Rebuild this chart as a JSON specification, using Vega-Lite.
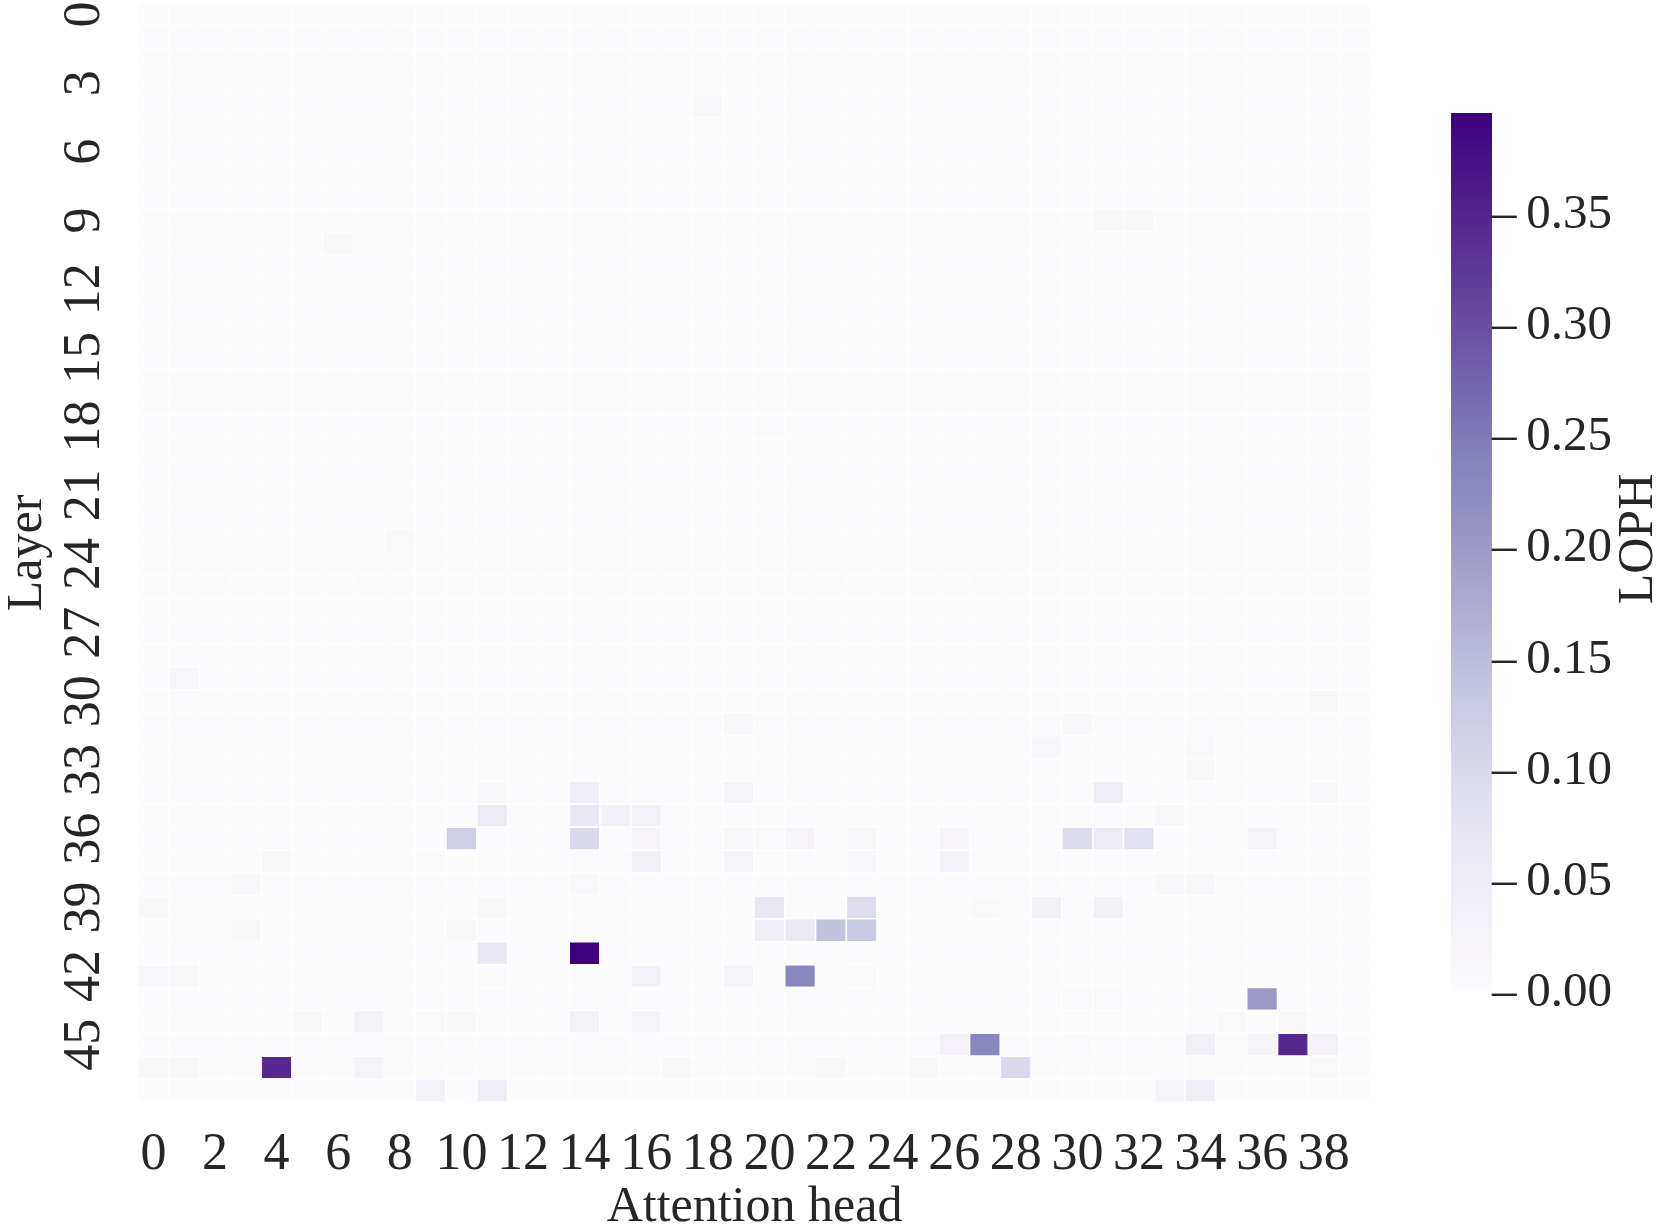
{"$schema":"https://vega.github.io/schema/vega-lite/v6.json","autosize":{"type":"none"},"padding":{"left":138,"top":3,"right":291,"bottom":126},"width":1232,"height":1099,"background":"white","config":{"font":"Liberation Serif","view":{"stroke":null}},
"data":{"values":[
{"l":0,"h":0,"v":0},{"l":0,"h":1,"v":0},{"l":0,"h":2,"v":0},{"l":0,"h":3,"v":0},{"l":0,"h":4,"v":0},{"l":0,"h":5,"v":0},{"l":0,"h":6,"v":0},{"l":0,"h":7,"v":0},{"l":0,"h":8,"v":0},{"l":0,"h":9,"v":0},{"l":0,"h":10,"v":0},{"l":0,"h":11,"v":0},{"l":0,"h":12,"v":0},{"l":0,"h":13,"v":0},{"l":0,"h":14,"v":0},{"l":0,"h":15,"v":0},{"l":0,"h":16,"v":0},{"l":0,"h":17,"v":0},{"l":0,"h":18,"v":0},{"l":0,"h":19,"v":0},{"l":0,"h":20,"v":0},{"l":0,"h":21,"v":0},{"l":0,"h":22,"v":0},{"l":0,"h":23,"v":0},{"l":0,"h":24,"v":0},{"l":0,"h":25,"v":0},{"l":0,"h":26,"v":0},{"l":0,"h":27,"v":0},{"l":0,"h":28,"v":0},{"l":0,"h":29,"v":0},{"l":0,"h":30,"v":0},{"l":0,"h":31,"v":0},{"l":0,"h":32,"v":0},{"l":0,"h":33,"v":0},{"l":0,"h":34,"v":0},{"l":0,"h":35,"v":0},{"l":0,"h":36,"v":0},{"l":0,"h":37,"v":0},{"l":0,"h":38,"v":0},{"l":0,"h":39,"v":0},
{"l":1,"h":0,"v":0},{"l":1,"h":1,"v":0},{"l":1,"h":2,"v":0},{"l":1,"h":3,"v":0},{"l":1,"h":4,"v":0},{"l":1,"h":5,"v":0},{"l":1,"h":6,"v":0},{"l":1,"h":7,"v":0},{"l":1,"h":8,"v":0},{"l":1,"h":9,"v":0},{"l":1,"h":10,"v":0},{"l":1,"h":11,"v":0},{"l":1,"h":12,"v":0},{"l":1,"h":13,"v":0},{"l":1,"h":14,"v":0},{"l":1,"h":15,"v":0},{"l":1,"h":16,"v":0},{"l":1,"h":17,"v":0},{"l":1,"h":18,"v":0},{"l":1,"h":19,"v":0},{"l":1,"h":20,"v":0},{"l":1,"h":21,"v":0},{"l":1,"h":22,"v":0},{"l":1,"h":23,"v":0},{"l":1,"h":24,"v":0},{"l":1,"h":25,"v":0},{"l":1,"h":26,"v":0},{"l":1,"h":27,"v":0},{"l":1,"h":28,"v":0},{"l":1,"h":29,"v":0},{"l":1,"h":30,"v":0},{"l":1,"h":31,"v":0},{"l":1,"h":32,"v":0},{"l":1,"h":33,"v":0},{"l":1,"h":34,"v":0},{"l":1,"h":35,"v":0},{"l":1,"h":36,"v":0},{"l":1,"h":37,"v":0},{"l":1,"h":38,"v":0},{"l":1,"h":39,"v":0},
{"l":2,"h":0,"v":0},{"l":2,"h":1,"v":0},{"l":2,"h":2,"v":0},{"l":2,"h":3,"v":0},{"l":2,"h":4,"v":0},{"l":2,"h":5,"v":0},{"l":2,"h":6,"v":0},{"l":2,"h":7,"v":0},{"l":2,"h":8,"v":0},{"l":2,"h":9,"v":0},{"l":2,"h":10,"v":0},{"l":2,"h":11,"v":0},{"l":2,"h":12,"v":0},{"l":2,"h":13,"v":0},{"l":2,"h":14,"v":0},{"l":2,"h":15,"v":0},{"l":2,"h":16,"v":0},{"l":2,"h":17,"v":0},{"l":2,"h":18,"v":0},{"l":2,"h":19,"v":0},{"l":2,"h":20,"v":0},{"l":2,"h":21,"v":0},{"l":2,"h":22,"v":0},{"l":2,"h":23,"v":0},{"l":2,"h":24,"v":0},{"l":2,"h":25,"v":0},{"l":2,"h":26,"v":0},{"l":2,"h":27,"v":0},{"l":2,"h":28,"v":0},{"l":2,"h":29,"v":0},{"l":2,"h":30,"v":0},{"l":2,"h":31,"v":0},{"l":2,"h":32,"v":0},{"l":2,"h":33,"v":0},{"l":2,"h":34,"v":0},{"l":2,"h":35,"v":0},{"l":2,"h":36,"v":0},{"l":2,"h":37,"v":0},{"l":2,"h":38,"v":0},{"l":2,"h":39,"v":0},
{"l":3,"h":0,"v":0},{"l":3,"h":1,"v":0},{"l":3,"h":2,"v":0},{"l":3,"h":3,"v":0},{"l":3,"h":4,"v":0},{"l":3,"h":5,"v":0},{"l":3,"h":6,"v":0},{"l":3,"h":7,"v":0},{"l":3,"h":8,"v":0},{"l":3,"h":9,"v":0},{"l":3,"h":10,"v":0},{"l":3,"h":11,"v":0},{"l":3,"h":12,"v":0},{"l":3,"h":13,"v":0},{"l":3,"h":14,"v":0},{"l":3,"h":15,"v":0},{"l":3,"h":16,"v":0},{"l":3,"h":17,"v":0},{"l":3,"h":18,"v":0},{"l":3,"h":19,"v":0},{"l":3,"h":20,"v":0},{"l":3,"h":21,"v":0},{"l":3,"h":22,"v":0},{"l":3,"h":23,"v":0},{"l":3,"h":24,"v":0},{"l":3,"h":25,"v":0},{"l":3,"h":26,"v":0},{"l":3,"h":27,"v":0},{"l":3,"h":28,"v":0},{"l":3,"h":29,"v":0},{"l":3,"h":30,"v":0},{"l":3,"h":31,"v":0},{"l":3,"h":32,"v":0},{"l":3,"h":33,"v":0},{"l":3,"h":34,"v":0},{"l":3,"h":35,"v":0},{"l":3,"h":36,"v":0},{"l":3,"h":37,"v":0},{"l":3,"h":38,"v":0},{"l":3,"h":39,"v":0},
{"l":4,"h":0,"v":0},{"l":4,"h":1,"v":0},{"l":4,"h":2,"v":0},{"l":4,"h":3,"v":0},{"l":4,"h":4,"v":0},{"l":4,"h":5,"v":0},{"l":4,"h":6,"v":0},{"l":4,"h":7,"v":0},{"l":4,"h":8,"v":0},{"l":4,"h":9,"v":0},{"l":4,"h":10,"v":0},{"l":4,"h":11,"v":0},{"l":4,"h":12,"v":0},{"l":4,"h":13,"v":0},{"l":4,"h":14,"v":0},{"l":4,"h":15,"v":0},{"l":4,"h":16,"v":0},{"l":4,"h":17,"v":0},{"l":4,"h":18,"v":0.012},{"l":4,"h":19,"v":0},{"l":4,"h":20,"v":0},{"l":4,"h":21,"v":0},{"l":4,"h":22,"v":0},{"l":4,"h":23,"v":0},{"l":4,"h":24,"v":0},{"l":4,"h":25,"v":0},{"l":4,"h":26,"v":0},{"l":4,"h":27,"v":0},{"l":4,"h":28,"v":0},{"l":4,"h":29,"v":0},{"l":4,"h":30,"v":0},{"l":4,"h":31,"v":0},{"l":4,"h":32,"v":0},{"l":4,"h":33,"v":0},{"l":4,"h":34,"v":0},{"l":4,"h":35,"v":0},{"l":4,"h":36,"v":0},{"l":4,"h":37,"v":0},{"l":4,"h":38,"v":0},{"l":4,"h":39,"v":0},
{"l":5,"h":0,"v":0},{"l":5,"h":1,"v":0},{"l":5,"h":2,"v":0},{"l":5,"h":3,"v":0},{"l":5,"h":4,"v":0},{"l":5,"h":5,"v":0},{"l":5,"h":6,"v":0},{"l":5,"h":7,"v":0},{"l":5,"h":8,"v":0},{"l":5,"h":9,"v":0},{"l":5,"h":10,"v":0},{"l":5,"h":11,"v":0},{"l":5,"h":12,"v":0},{"l":5,"h":13,"v":0},{"l":5,"h":14,"v":0},{"l":5,"h":15,"v":0},{"l":5,"h":16,"v":0},{"l":5,"h":17,"v":0},{"l":5,"h":18,"v":0},{"l":5,"h":19,"v":0},{"l":5,"h":20,"v":0},{"l":5,"h":21,"v":0},{"l":5,"h":22,"v":0},{"l":5,"h":23,"v":0},{"l":5,"h":24,"v":0},{"l":5,"h":25,"v":0},{"l":5,"h":26,"v":0},{"l":5,"h":27,"v":0},{"l":5,"h":28,"v":0},{"l":5,"h":29,"v":0},{"l":5,"h":30,"v":0},{"l":5,"h":31,"v":0},{"l":5,"h":32,"v":0},{"l":5,"h":33,"v":0},{"l":5,"h":34,"v":0},{"l":5,"h":35,"v":0},{"l":5,"h":36,"v":0},{"l":5,"h":37,"v":0},{"l":5,"h":38,"v":0},{"l":5,"h":39,"v":0},
{"l":6,"h":0,"v":0},{"l":6,"h":1,"v":0},{"l":6,"h":2,"v":0},{"l":6,"h":3,"v":0},{"l":6,"h":4,"v":0},{"l":6,"h":5,"v":0},{"l":6,"h":6,"v":0},{"l":6,"h":7,"v":0},{"l":6,"h":8,"v":0},{"l":6,"h":9,"v":0},{"l":6,"h":10,"v":0},{"l":6,"h":11,"v":0},{"l":6,"h":12,"v":0},{"l":6,"h":13,"v":0},{"l":6,"h":14,"v":0},{"l":6,"h":15,"v":0},{"l":6,"h":16,"v":0},{"l":6,"h":17,"v":0},{"l":6,"h":18,"v":0},{"l":6,"h":19,"v":0},{"l":6,"h":20,"v":0},{"l":6,"h":21,"v":0},{"l":6,"h":22,"v":0},{"l":6,"h":23,"v":0},{"l":6,"h":24,"v":0},{"l":6,"h":25,"v":0},{"l":6,"h":26,"v":0},{"l":6,"h":27,"v":0},{"l":6,"h":28,"v":0},{"l":6,"h":29,"v":0},{"l":6,"h":30,"v":0},{"l":6,"h":31,"v":0},{"l":6,"h":32,"v":0},{"l":6,"h":33,"v":0},{"l":6,"h":34,"v":0},{"l":6,"h":35,"v":0},{"l":6,"h":36,"v":0},{"l":6,"h":37,"v":0},{"l":6,"h":38,"v":0},{"l":6,"h":39,"v":0},
{"l":7,"h":0,"v":0},{"l":7,"h":1,"v":0},{"l":7,"h":2,"v":0},{"l":7,"h":3,"v":0},{"l":7,"h":4,"v":0},{"l":7,"h":5,"v":0},{"l":7,"h":6,"v":0},{"l":7,"h":7,"v":0},{"l":7,"h":8,"v":0},{"l":7,"h":9,"v":0},{"l":7,"h":10,"v":0},{"l":7,"h":11,"v":0},{"l":7,"h":12,"v":0},{"l":7,"h":13,"v":0},{"l":7,"h":14,"v":0},{"l":7,"h":15,"v":0},{"l":7,"h":16,"v":0},{"l":7,"h":17,"v":0},{"l":7,"h":18,"v":0},{"l":7,"h":19,"v":0},{"l":7,"h":20,"v":0},{"l":7,"h":21,"v":0},{"l":7,"h":22,"v":0},{"l":7,"h":23,"v":0},{"l":7,"h":24,"v":0},{"l":7,"h":25,"v":0},{"l":7,"h":26,"v":0},{"l":7,"h":27,"v":0},{"l":7,"h":28,"v":0},{"l":7,"h":29,"v":0},{"l":7,"h":30,"v":0},{"l":7,"h":31,"v":0},{"l":7,"h":32,"v":0},{"l":7,"h":33,"v":0},{"l":7,"h":34,"v":0},{"l":7,"h":35,"v":0},{"l":7,"h":36,"v":0},{"l":7,"h":37,"v":0},{"l":7,"h":38,"v":0},{"l":7,"h":39,"v":0},
{"l":8,"h":0,"v":0},{"l":8,"h":1,"v":0},{"l":8,"h":2,"v":0},{"l":8,"h":3,"v":0},{"l":8,"h":4,"v":0},{"l":8,"h":5,"v":0},{"l":8,"h":6,"v":0},{"l":8,"h":7,"v":0},{"l":8,"h":8,"v":0},{"l":8,"h":9,"v":0},{"l":8,"h":10,"v":0},{"l":8,"h":11,"v":0},{"l":8,"h":12,"v":0},{"l":8,"h":13,"v":0},{"l":8,"h":14,"v":0},{"l":8,"h":15,"v":0},{"l":8,"h":16,"v":0},{"l":8,"h":17,"v":0},{"l":8,"h":18,"v":0},{"l":8,"h":19,"v":0},{"l":8,"h":20,"v":0},{"l":8,"h":21,"v":0},{"l":8,"h":22,"v":0},{"l":8,"h":23,"v":0},{"l":8,"h":24,"v":0},{"l":8,"h":25,"v":0},{"l":8,"h":26,"v":0},{"l":8,"h":27,"v":0},{"l":8,"h":28,"v":0},{"l":8,"h":29,"v":0},{"l":8,"h":30,"v":0},{"l":8,"h":31,"v":0},{"l":8,"h":32,"v":0},{"l":8,"h":33,"v":0},{"l":8,"h":34,"v":0},{"l":8,"h":35,"v":0},{"l":8,"h":36,"v":0},{"l":8,"h":37,"v":0},{"l":8,"h":38,"v":0},{"l":8,"h":39,"v":0},
{"l":9,"h":0,"v":0},{"l":9,"h":1,"v":0},{"l":9,"h":2,"v":0},{"l":9,"h":3,"v":0},{"l":9,"h":4,"v":0},{"l":9,"h":5,"v":0},{"l":9,"h":6,"v":0},{"l":9,"h":7,"v":0},{"l":9,"h":8,"v":0},{"l":9,"h":9,"v":0},{"l":9,"h":10,"v":0},{"l":9,"h":11,"v":0},{"l":9,"h":12,"v":0},{"l":9,"h":13,"v":0},{"l":9,"h":14,"v":0},{"l":9,"h":15,"v":0},{"l":9,"h":16,"v":0},{"l":9,"h":17,"v":0},{"l":9,"h":18,"v":0},{"l":9,"h":19,"v":0},{"l":9,"h":20,"v":0},{"l":9,"h":21,"v":0},{"l":9,"h":22,"v":0},{"l":9,"h":23,"v":0},{"l":9,"h":24,"v":0},{"l":9,"h":25,"v":0},{"l":9,"h":26,"v":0},{"l":9,"h":27,"v":0},{"l":9,"h":28,"v":0},{"l":9,"h":29,"v":0},{"l":9,"h":30,"v":0},{"l":9,"h":31,"v":0.012},{"l":9,"h":32,"v":0.01},{"l":9,"h":33,"v":0},{"l":9,"h":34,"v":0},{"l":9,"h":35,"v":0},{"l":9,"h":36,"v":0},{"l":9,"h":37,"v":0},{"l":9,"h":38,"v":0},{"l":9,"h":39,"v":0},
{"l":10,"h":0,"v":0},{"l":10,"h":1,"v":0},{"l":10,"h":2,"v":0},{"l":10,"h":3,"v":0},{"l":10,"h":4,"v":0},{"l":10,"h":5,"v":0},{"l":10,"h":6,"v":0.01},{"l":10,"h":7,"v":0},{"l":10,"h":8,"v":0},{"l":10,"h":9,"v":0},{"l":10,"h":10,"v":0},{"l":10,"h":11,"v":0},{"l":10,"h":12,"v":0},{"l":10,"h":13,"v":0},{"l":10,"h":14,"v":0},{"l":10,"h":15,"v":0},{"l":10,"h":16,"v":0},{"l":10,"h":17,"v":0},{"l":10,"h":18,"v":0},{"l":10,"h":19,"v":0},{"l":10,"h":20,"v":0},{"l":10,"h":21,"v":0},{"l":10,"h":22,"v":0},{"l":10,"h":23,"v":0},{"l":10,"h":24,"v":0},{"l":10,"h":25,"v":0},{"l":10,"h":26,"v":0},{"l":10,"h":27,"v":0},{"l":10,"h":28,"v":0},{"l":10,"h":29,"v":0},{"l":10,"h":30,"v":0},{"l":10,"h":31,"v":0},{"l":10,"h":32,"v":0},{"l":10,"h":33,"v":0},{"l":10,"h":34,"v":0},{"l":10,"h":35,"v":0},{"l":10,"h":36,"v":0},{"l":10,"h":37,"v":0},{"l":10,"h":38,"v":0},{"l":10,"h":39,"v":0},
{"l":11,"h":0,"v":0},{"l":11,"h":1,"v":0},{"l":11,"h":2,"v":0},{"l":11,"h":3,"v":0},{"l":11,"h":4,"v":0},{"l":11,"h":5,"v":0},{"l":11,"h":6,"v":0},{"l":11,"h":7,"v":0},{"l":11,"h":8,"v":0},{"l":11,"h":9,"v":0},{"l":11,"h":10,"v":0},{"l":11,"h":11,"v":0},{"l":11,"h":12,"v":0},{"l":11,"h":13,"v":0},{"l":11,"h":14,"v":0},{"l":11,"h":15,"v":0},{"l":11,"h":16,"v":0},{"l":11,"h":17,"v":0},{"l":11,"h":18,"v":0},{"l":11,"h":19,"v":0},{"l":11,"h":20,"v":0},{"l":11,"h":21,"v":0},{"l":11,"h":22,"v":0},{"l":11,"h":23,"v":0},{"l":11,"h":24,"v":0},{"l":11,"h":25,"v":0},{"l":11,"h":26,"v":0},{"l":11,"h":27,"v":0},{"l":11,"h":28,"v":0},{"l":11,"h":29,"v":0},{"l":11,"h":30,"v":0},{"l":11,"h":31,"v":0},{"l":11,"h":32,"v":0},{"l":11,"h":33,"v":0},{"l":11,"h":34,"v":0},{"l":11,"h":35,"v":0},{"l":11,"h":36,"v":0},{"l":11,"h":37,"v":0},{"l":11,"h":38,"v":0},{"l":11,"h":39,"v":0},
{"l":12,"h":0,"v":0},{"l":12,"h":1,"v":0},{"l":12,"h":2,"v":0},{"l":12,"h":3,"v":0},{"l":12,"h":4,"v":0},{"l":12,"h":5,"v":0},{"l":12,"h":6,"v":0},{"l":12,"h":7,"v":0},{"l":12,"h":8,"v":0},{"l":12,"h":9,"v":0},{"l":12,"h":10,"v":0},{"l":12,"h":11,"v":0},{"l":12,"h":12,"v":0},{"l":12,"h":13,"v":0},{"l":12,"h":14,"v":0},{"l":12,"h":15,"v":0},{"l":12,"h":16,"v":0},{"l":12,"h":17,"v":0},{"l":12,"h":18,"v":0},{"l":12,"h":19,"v":0},{"l":12,"h":20,"v":0},{"l":12,"h":21,"v":0},{"l":12,"h":22,"v":0},{"l":12,"h":23,"v":0},{"l":12,"h":24,"v":0},{"l":12,"h":25,"v":0},{"l":12,"h":26,"v":0},{"l":12,"h":27,"v":0},{"l":12,"h":28,"v":0},{"l":12,"h":29,"v":0},{"l":12,"h":30,"v":0},{"l":12,"h":31,"v":0},{"l":12,"h":32,"v":0},{"l":12,"h":33,"v":0},{"l":12,"h":34,"v":0},{"l":12,"h":35,"v":0},{"l":12,"h":36,"v":0},{"l":12,"h":37,"v":0},{"l":12,"h":38,"v":0},{"l":12,"h":39,"v":0},
{"l":13,"h":0,"v":0},{"l":13,"h":1,"v":0},{"l":13,"h":2,"v":0},{"l":13,"h":3,"v":0},{"l":13,"h":4,"v":0},{"l":13,"h":5,"v":0},{"l":13,"h":6,"v":0},{"l":13,"h":7,"v":0},{"l":13,"h":8,"v":0},{"l":13,"h":9,"v":0},{"l":13,"h":10,"v":0},{"l":13,"h":11,"v":0},{"l":13,"h":12,"v":0},{"l":13,"h":13,"v":0},{"l":13,"h":14,"v":0},{"l":13,"h":15,"v":0},{"l":13,"h":16,"v":0},{"l":13,"h":17,"v":0},{"l":13,"h":18,"v":0},{"l":13,"h":19,"v":0},{"l":13,"h":20,"v":0},{"l":13,"h":21,"v":0},{"l":13,"h":22,"v":0},{"l":13,"h":23,"v":0},{"l":13,"h":24,"v":0},{"l":13,"h":25,"v":0},{"l":13,"h":26,"v":0},{"l":13,"h":27,"v":0},{"l":13,"h":28,"v":0},{"l":13,"h":29,"v":0},{"l":13,"h":30,"v":0},{"l":13,"h":31,"v":0},{"l":13,"h":32,"v":0},{"l":13,"h":33,"v":0},{"l":13,"h":34,"v":0},{"l":13,"h":35,"v":0},{"l":13,"h":36,"v":0},{"l":13,"h":37,"v":0},{"l":13,"h":38,"v":0},{"l":13,"h":39,"v":0},
{"l":14,"h":0,"v":0},{"l":14,"h":1,"v":0},{"l":14,"h":2,"v":0},{"l":14,"h":3,"v":0},{"l":14,"h":4,"v":0},{"l":14,"h":5,"v":0},{"l":14,"h":6,"v":0},{"l":14,"h":7,"v":0},{"l":14,"h":8,"v":0},{"l":14,"h":9,"v":0},{"l":14,"h":10,"v":0},{"l":14,"h":11,"v":0},{"l":14,"h":12,"v":0},{"l":14,"h":13,"v":0},{"l":14,"h":14,"v":0},{"l":14,"h":15,"v":0},{"l":14,"h":16,"v":0},{"l":14,"h":17,"v":0},{"l":14,"h":18,"v":0},{"l":14,"h":19,"v":0},{"l":14,"h":20,"v":0},{"l":14,"h":21,"v":0},{"l":14,"h":22,"v":0},{"l":14,"h":23,"v":0},{"l":14,"h":24,"v":0},{"l":14,"h":25,"v":0},{"l":14,"h":26,"v":0},{"l":14,"h":27,"v":0},{"l":14,"h":28,"v":0},{"l":14,"h":29,"v":0},{"l":14,"h":30,"v":0},{"l":14,"h":31,"v":0},{"l":14,"h":32,"v":0},{"l":14,"h":33,"v":0},{"l":14,"h":34,"v":0},{"l":14,"h":35,"v":0},{"l":14,"h":36,"v":0},{"l":14,"h":37,"v":0},{"l":14,"h":38,"v":0},{"l":14,"h":39,"v":0},
{"l":15,"h":0,"v":0},{"l":15,"h":1,"v":0},{"l":15,"h":2,"v":0},{"l":15,"h":3,"v":0},{"l":15,"h":4,"v":0},{"l":15,"h":5,"v":0},{"l":15,"h":6,"v":0},{"l":15,"h":7,"v":0},{"l":15,"h":8,"v":0},{"l":15,"h":9,"v":0},{"l":15,"h":10,"v":0},{"l":15,"h":11,"v":0},{"l":15,"h":12,"v":0},{"l":15,"h":13,"v":0},{"l":15,"h":14,"v":0},{"l":15,"h":15,"v":0},{"l":15,"h":16,"v":0},{"l":15,"h":17,"v":0},{"l":15,"h":18,"v":0},{"l":15,"h":19,"v":0},{"l":15,"h":20,"v":0},{"l":15,"h":21,"v":0},{"l":15,"h":22,"v":0},{"l":15,"h":23,"v":0},{"l":15,"h":24,"v":0},{"l":15,"h":25,"v":0},{"l":15,"h":26,"v":0},{"l":15,"h":27,"v":0},{"l":15,"h":28,"v":0},{"l":15,"h":29,"v":0},{"l":15,"h":30,"v":0},{"l":15,"h":31,"v":0},{"l":15,"h":32,"v":0},{"l":15,"h":33,"v":0},{"l":15,"h":34,"v":0},{"l":15,"h":35,"v":0},{"l":15,"h":36,"v":0},{"l":15,"h":37,"v":0},{"l":15,"h":38,"v":0},{"l":15,"h":39,"v":0},
{"l":16,"h":0,"v":0},{"l":16,"h":1,"v":0},{"l":16,"h":2,"v":0},{"l":16,"h":3,"v":0},{"l":16,"h":4,"v":0},{"l":16,"h":5,"v":0},{"l":16,"h":6,"v":0},{"l":16,"h":7,"v":0},{"l":16,"h":8,"v":0},{"l":16,"h":9,"v":0},{"l":16,"h":10,"v":0},{"l":16,"h":11,"v":0},{"l":16,"h":12,"v":0},{"l":16,"h":13,"v":0},{"l":16,"h":14,"v":0},{"l":16,"h":15,"v":0},{"l":16,"h":16,"v":0},{"l":16,"h":17,"v":0},{"l":16,"h":18,"v":0},{"l":16,"h":19,"v":0},{"l":16,"h":20,"v":0},{"l":16,"h":21,"v":0},{"l":16,"h":22,"v":0},{"l":16,"h":23,"v":0},{"l":16,"h":24,"v":0},{"l":16,"h":25,"v":0},{"l":16,"h":26,"v":0},{"l":16,"h":27,"v":0},{"l":16,"h":28,"v":0},{"l":16,"h":29,"v":0},{"l":16,"h":30,"v":0},{"l":16,"h":31,"v":0},{"l":16,"h":32,"v":0},{"l":16,"h":33,"v":0},{"l":16,"h":34,"v":0},{"l":16,"h":35,"v":0},{"l":16,"h":36,"v":0},{"l":16,"h":37,"v":0},{"l":16,"h":38,"v":0},{"l":16,"h":39,"v":0},
{"l":17,"h":0,"v":0},{"l":17,"h":1,"v":0},{"l":17,"h":2,"v":0},{"l":17,"h":3,"v":0},{"l":17,"h":4,"v":0},{"l":17,"h":5,"v":0},{"l":17,"h":6,"v":0},{"l":17,"h":7,"v":0},{"l":17,"h":8,"v":0},{"l":17,"h":9,"v":0},{"l":17,"h":10,"v":0},{"l":17,"h":11,"v":0},{"l":17,"h":12,"v":0},{"l":17,"h":13,"v":0},{"l":17,"h":14,"v":0},{"l":17,"h":15,"v":0},{"l":17,"h":16,"v":0},{"l":17,"h":17,"v":0},{"l":17,"h":18,"v":0},{"l":17,"h":19,"v":0},{"l":17,"h":20,"v":0},{"l":17,"h":21,"v":0},{"l":17,"h":22,"v":0},{"l":17,"h":23,"v":0},{"l":17,"h":24,"v":0},{"l":17,"h":25,"v":0},{"l":17,"h":26,"v":0},{"l":17,"h":27,"v":0},{"l":17,"h":28,"v":0},{"l":17,"h":29,"v":0},{"l":17,"h":30,"v":0},{"l":17,"h":31,"v":0},{"l":17,"h":32,"v":0},{"l":17,"h":33,"v":0},{"l":17,"h":34,"v":0},{"l":17,"h":35,"v":0},{"l":17,"h":36,"v":0},{"l":17,"h":37,"v":0},{"l":17,"h":38,"v":0},{"l":17,"h":39,"v":0},
{"l":18,"h":0,"v":0},{"l":18,"h":1,"v":0},{"l":18,"h":2,"v":0},{"l":18,"h":3,"v":0},{"l":18,"h":4,"v":0},{"l":18,"h":5,"v":0},{"l":18,"h":6,"v":0},{"l":18,"h":7,"v":0},{"l":18,"h":8,"v":0},{"l":18,"h":9,"v":0},{"l":18,"h":10,"v":0},{"l":18,"h":11,"v":0},{"l":18,"h":12,"v":0},{"l":18,"h":13,"v":0},{"l":18,"h":14,"v":0},{"l":18,"h":15,"v":0},{"l":18,"h":16,"v":0},{"l":18,"h":17,"v":0},{"l":18,"h":18,"v":0},{"l":18,"h":19,"v":0},{"l":18,"h":20,"v":0.008},{"l":18,"h":21,"v":0},{"l":18,"h":22,"v":0},{"l":18,"h":23,"v":0},{"l":18,"h":24,"v":0},{"l":18,"h":25,"v":0},{"l":18,"h":26,"v":0},{"l":18,"h":27,"v":0},{"l":18,"h":28,"v":0},{"l":18,"h":29,"v":0},{"l":18,"h":30,"v":0},{"l":18,"h":31,"v":0},{"l":18,"h":32,"v":0},{"l":18,"h":33,"v":0},{"l":18,"h":34,"v":0},{"l":18,"h":35,"v":0},{"l":18,"h":36,"v":0},{"l":18,"h":37,"v":0},{"l":18,"h":38,"v":0},{"l":18,"h":39,"v":0},
{"l":19,"h":0,"v":0},{"l":19,"h":1,"v":0},{"l":19,"h":2,"v":0},{"l":19,"h":3,"v":0},{"l":19,"h":4,"v":0},{"l":19,"h":5,"v":0},{"l":19,"h":6,"v":0},{"l":19,"h":7,"v":0},{"l":19,"h":8,"v":0},{"l":19,"h":9,"v":0},{"l":19,"h":10,"v":0},{"l":19,"h":11,"v":0},{"l":19,"h":12,"v":0},{"l":19,"h":13,"v":0},{"l":19,"h":14,"v":0},{"l":19,"h":15,"v":0},{"l":19,"h":16,"v":0},{"l":19,"h":17,"v":0},{"l":19,"h":18,"v":0},{"l":19,"h":19,"v":0},{"l":19,"h":20,"v":0},{"l":19,"h":21,"v":0},{"l":19,"h":22,"v":0},{"l":19,"h":23,"v":0},{"l":19,"h":24,"v":0},{"l":19,"h":25,"v":0},{"l":19,"h":26,"v":0},{"l":19,"h":27,"v":0},{"l":19,"h":28,"v":0},{"l":19,"h":29,"v":0},{"l":19,"h":30,"v":0},{"l":19,"h":31,"v":0},{"l":19,"h":32,"v":0},{"l":19,"h":33,"v":0},{"l":19,"h":34,"v":0},{"l":19,"h":35,"v":0},{"l":19,"h":36,"v":0},{"l":19,"h":37,"v":0},{"l":19,"h":38,"v":0},{"l":19,"h":39,"v":0},
{"l":20,"h":0,"v":0},{"l":20,"h":1,"v":0},{"l":20,"h":2,"v":0},{"l":20,"h":3,"v":0},{"l":20,"h":4,"v":0},{"l":20,"h":5,"v":0},{"l":20,"h":6,"v":0},{"l":20,"h":7,"v":0},{"l":20,"h":8,"v":0},{"l":20,"h":9,"v":0},{"l":20,"h":10,"v":0},{"l":20,"h":11,"v":0},{"l":20,"h":12,"v":0},{"l":20,"h":13,"v":0},{"l":20,"h":14,"v":0},{"l":20,"h":15,"v":0},{"l":20,"h":16,"v":0},{"l":20,"h":17,"v":0},{"l":20,"h":18,"v":0},{"l":20,"h":19,"v":0},{"l":20,"h":20,"v":0},{"l":20,"h":21,"v":0},{"l":20,"h":22,"v":0},{"l":20,"h":23,"v":0},{"l":20,"h":24,"v":0},{"l":20,"h":25,"v":0},{"l":20,"h":26,"v":0},{"l":20,"h":27,"v":0},{"l":20,"h":28,"v":0},{"l":20,"h":29,"v":0},{"l":20,"h":30,"v":0},{"l":20,"h":31,"v":0},{"l":20,"h":32,"v":0},{"l":20,"h":33,"v":0},{"l":20,"h":34,"v":0},{"l":20,"h":35,"v":0},{"l":20,"h":36,"v":0},{"l":20,"h":37,"v":0},{"l":20,"h":38,"v":0},{"l":20,"h":39,"v":0},
{"l":21,"h":0,"v":0},{"l":21,"h":1,"v":0},{"l":21,"h":2,"v":0},{"l":21,"h":3,"v":0},{"l":21,"h":4,"v":0},{"l":21,"h":5,"v":0},{"l":21,"h":6,"v":0},{"l":21,"h":7,"v":0},{"l":21,"h":8,"v":0},{"l":21,"h":9,"v":0},{"l":21,"h":10,"v":0},{"l":21,"h":11,"v":0},{"l":21,"h":12,"v":0},{"l":21,"h":13,"v":0},{"l":21,"h":14,"v":0},{"l":21,"h":15,"v":0},{"l":21,"h":16,"v":0},{"l":21,"h":17,"v":0},{"l":21,"h":18,"v":0},{"l":21,"h":19,"v":0},{"l":21,"h":20,"v":0},{"l":21,"h":21,"v":0},{"l":21,"h":22,"v":0},{"l":21,"h":23,"v":0},{"l":21,"h":24,"v":0},{"l":21,"h":25,"v":0},{"l":21,"h":26,"v":0},{"l":21,"h":27,"v":0},{"l":21,"h":28,"v":0},{"l":21,"h":29,"v":0},{"l":21,"h":30,"v":0},{"l":21,"h":31,"v":0},{"l":21,"h":32,"v":0},{"l":21,"h":33,"v":0},{"l":21,"h":34,"v":0},{"l":21,"h":35,"v":0},{"l":21,"h":36,"v":0},{"l":21,"h":37,"v":0},{"l":21,"h":38,"v":0},{"l":21,"h":39,"v":0},
{"l":22,"h":0,"v":0},{"l":22,"h":1,"v":0},{"l":22,"h":2,"v":0},{"l":22,"h":3,"v":0},{"l":22,"h":4,"v":0},{"l":22,"h":5,"v":0},{"l":22,"h":6,"v":0},{"l":22,"h":7,"v":0},{"l":22,"h":8,"v":0},{"l":22,"h":9,"v":0},{"l":22,"h":10,"v":0},{"l":22,"h":11,"v":0},{"l":22,"h":12,"v":0},{"l":22,"h":13,"v":0},{"l":22,"h":14,"v":0},{"l":22,"h":15,"v":0},{"l":22,"h":16,"v":0},{"l":22,"h":17,"v":0},{"l":22,"h":18,"v":0},{"l":22,"h":19,"v":0},{"l":22,"h":20,"v":0},{"l":22,"h":21,"v":0},{"l":22,"h":22,"v":0},{"l":22,"h":23,"v":0},{"l":22,"h":24,"v":0},{"l":22,"h":25,"v":0},{"l":22,"h":26,"v":0},{"l":22,"h":27,"v":0},{"l":22,"h":28,"v":0},{"l":22,"h":29,"v":0},{"l":22,"h":30,"v":0},{"l":22,"h":31,"v":0},{"l":22,"h":32,"v":0},{"l":22,"h":33,"v":0},{"l":22,"h":34,"v":0},{"l":22,"h":35,"v":0},{"l":22,"h":36,"v":0},{"l":22,"h":37,"v":0},{"l":22,"h":38,"v":0},{"l":22,"h":39,"v":0},
{"l":23,"h":0,"v":0},{"l":23,"h":1,"v":0},{"l":23,"h":2,"v":0},{"l":23,"h":3,"v":0},{"l":23,"h":4,"v":0},{"l":23,"h":5,"v":0},{"l":23,"h":6,"v":0},{"l":23,"h":7,"v":0},{"l":23,"h":8,"v":0.006},{"l":23,"h":9,"v":0},{"l":23,"h":10,"v":0},{"l":23,"h":11,"v":0},{"l":23,"h":12,"v":0},{"l":23,"h":13,"v":0},{"l":23,"h":14,"v":0},{"l":23,"h":15,"v":0},{"l":23,"h":16,"v":0},{"l":23,"h":17,"v":0},{"l":23,"h":18,"v":0},{"l":23,"h":19,"v":0},{"l":23,"h":20,"v":0},{"l":23,"h":21,"v":0},{"l":23,"h":22,"v":0},{"l":23,"h":23,"v":0},{"l":23,"h":24,"v":0},{"l":23,"h":25,"v":0},{"l":23,"h":26,"v":0},{"l":23,"h":27,"v":0},{"l":23,"h":28,"v":0},{"l":23,"h":29,"v":0},{"l":23,"h":30,"v":0},{"l":23,"h":31,"v":0},{"l":23,"h":32,"v":0},{"l":23,"h":33,"v":0},{"l":23,"h":34,"v":0},{"l":23,"h":35,"v":0},{"l":23,"h":36,"v":0},{"l":23,"h":37,"v":0},{"l":23,"h":38,"v":0},{"l":23,"h":39,"v":0},
{"l":24,"h":0,"v":0},{"l":24,"h":1,"v":0},{"l":24,"h":2,"v":0},{"l":24,"h":3,"v":0},{"l":24,"h":4,"v":0},{"l":24,"h":5,"v":0},{"l":24,"h":6,"v":0},{"l":24,"h":7,"v":0},{"l":24,"h":8,"v":0},{"l":24,"h":9,"v":0},{"l":24,"h":10,"v":0},{"l":24,"h":11,"v":0},{"l":24,"h":12,"v":0},{"l":24,"h":13,"v":0},{"l":24,"h":14,"v":0},{"l":24,"h":15,"v":0},{"l":24,"h":16,"v":0},{"l":24,"h":17,"v":0},{"l":24,"h":18,"v":0},{"l":24,"h":19,"v":0},{"l":24,"h":20,"v":0},{"l":24,"h":21,"v":0},{"l":24,"h":22,"v":0},{"l":24,"h":23,"v":0},{"l":24,"h":24,"v":0},{"l":24,"h":25,"v":0},{"l":24,"h":26,"v":0},{"l":24,"h":27,"v":0},{"l":24,"h":28,"v":0},{"l":24,"h":29,"v":0},{"l":24,"h":30,"v":0},{"l":24,"h":31,"v":0},{"l":24,"h":32,"v":0},{"l":24,"h":33,"v":0},{"l":24,"h":34,"v":0},{"l":24,"h":35,"v":0},{"l":24,"h":36,"v":0},{"l":24,"h":37,"v":0},{"l":24,"h":38,"v":0},{"l":24,"h":39,"v":0},
{"l":25,"h":0,"v":0},{"l":25,"h":1,"v":0},{"l":25,"h":2,"v":0},{"l":25,"h":3,"v":0},{"l":25,"h":4,"v":0},{"l":25,"h":5,"v":0},{"l":25,"h":6,"v":0},{"l":25,"h":7,"v":0},{"l":25,"h":8,"v":0},{"l":25,"h":9,"v":0},{"l":25,"h":10,"v":0},{"l":25,"h":11,"v":0},{"l":25,"h":12,"v":0},{"l":25,"h":13,"v":0},{"l":25,"h":14,"v":0},{"l":25,"h":15,"v":0},{"l":25,"h":16,"v":0},{"l":25,"h":17,"v":0},{"l":25,"h":18,"v":0},{"l":25,"h":19,"v":0},{"l":25,"h":20,"v":0},{"l":25,"h":21,"v":0},{"l":25,"h":22,"v":0},{"l":25,"h":23,"v":0},{"l":25,"h":24,"v":0},{"l":25,"h":25,"v":0},{"l":25,"h":26,"v":0},{"l":25,"h":27,"v":0},{"l":25,"h":28,"v":0},{"l":25,"h":29,"v":0},{"l":25,"h":30,"v":0},{"l":25,"h":31,"v":0},{"l":25,"h":32,"v":0},{"l":25,"h":33,"v":0},{"l":25,"h":34,"v":0},{"l":25,"h":35,"v":0},{"l":25,"h":36,"v":0},{"l":25,"h":37,"v":0},{"l":25,"h":38,"v":0},{"l":25,"h":39,"v":0},
{"l":26,"h":0,"v":0},{"l":26,"h":1,"v":0},{"l":26,"h":2,"v":0},{"l":26,"h":3,"v":0},{"l":26,"h":4,"v":0},{"l":26,"h":5,"v":0},{"l":26,"h":6,"v":0},{"l":26,"h":7,"v":0},{"l":26,"h":8,"v":0},{"l":26,"h":9,"v":0},{"l":26,"h":10,"v":0},{"l":26,"h":11,"v":0},{"l":26,"h":12,"v":0},{"l":26,"h":13,"v":0},{"l":26,"h":14,"v":0},{"l":26,"h":15,"v":0},{"l":26,"h":16,"v":0},{"l":26,"h":17,"v":0},{"l":26,"h":18,"v":0},{"l":26,"h":19,"v":0},{"l":26,"h":20,"v":0},{"l":26,"h":21,"v":0},{"l":26,"h":22,"v":0},{"l":26,"h":23,"v":0},{"l":26,"h":24,"v":0},{"l":26,"h":25,"v":0},{"l":26,"h":26,"v":0},{"l":26,"h":27,"v":0},{"l":26,"h":28,"v":0},{"l":26,"h":29,"v":0},{"l":26,"h":30,"v":0},{"l":26,"h":31,"v":0},{"l":26,"h":32,"v":0},{"l":26,"h":33,"v":0},{"l":26,"h":34,"v":0},{"l":26,"h":35,"v":0},{"l":26,"h":36,"v":0},{"l":26,"h":37,"v":0},{"l":26,"h":38,"v":0},{"l":26,"h":39,"v":0},
{"l":27,"h":0,"v":0},{"l":27,"h":1,"v":0},{"l":27,"h":2,"v":0},{"l":27,"h":3,"v":0},{"l":27,"h":4,"v":0},{"l":27,"h":5,"v":0},{"l":27,"h":6,"v":0},{"l":27,"h":7,"v":0},{"l":27,"h":8,"v":0},{"l":27,"h":9,"v":0},{"l":27,"h":10,"v":0},{"l":27,"h":11,"v":0},{"l":27,"h":12,"v":0},{"l":27,"h":13,"v":0},{"l":27,"h":14,"v":0},{"l":27,"h":15,"v":0},{"l":27,"h":16,"v":0},{"l":27,"h":17,"v":0},{"l":27,"h":18,"v":0},{"l":27,"h":19,"v":0},{"l":27,"h":20,"v":0},{"l":27,"h":21,"v":0},{"l":27,"h":22,"v":0},{"l":27,"h":23,"v":0},{"l":27,"h":24,"v":0},{"l":27,"h":25,"v":0},{"l":27,"h":26,"v":0},{"l":27,"h":27,"v":0},{"l":27,"h":28,"v":0},{"l":27,"h":29,"v":0},{"l":27,"h":30,"v":0},{"l":27,"h":31,"v":0},{"l":27,"h":32,"v":0},{"l":27,"h":33,"v":0},{"l":27,"h":34,"v":0},{"l":27,"h":35,"v":0},{"l":27,"h":36,"v":0},{"l":27,"h":37,"v":0},{"l":27,"h":38,"v":0},{"l":27,"h":39,"v":0},
{"l":28,"h":0,"v":0},{"l":28,"h":1,"v":0},{"l":28,"h":2,"v":0},{"l":28,"h":3,"v":0},{"l":28,"h":4,"v":0},{"l":28,"h":5,"v":0},{"l":28,"h":6,"v":0},{"l":28,"h":7,"v":0},{"l":28,"h":8,"v":0},{"l":28,"h":9,"v":0},{"l":28,"h":10,"v":0},{"l":28,"h":11,"v":0},{"l":28,"h":12,"v":0},{"l":28,"h":13,"v":0},{"l":28,"h":14,"v":0},{"l":28,"h":15,"v":0},{"l":28,"h":16,"v":0},{"l":28,"h":17,"v":0},{"l":28,"h":18,"v":0},{"l":28,"h":19,"v":0},{"l":28,"h":20,"v":0},{"l":28,"h":21,"v":0},{"l":28,"h":22,"v":0},{"l":28,"h":23,"v":0},{"l":28,"h":24,"v":0},{"l":28,"h":25,"v":0},{"l":28,"h":26,"v":0},{"l":28,"h":27,"v":0},{"l":28,"h":28,"v":0},{"l":28,"h":29,"v":0},{"l":28,"h":30,"v":0},{"l":28,"h":31,"v":0},{"l":28,"h":32,"v":0},{"l":28,"h":33,"v":0},{"l":28,"h":34,"v":0},{"l":28,"h":35,"v":0},{"l":28,"h":36,"v":0},{"l":28,"h":37,"v":0},{"l":28,"h":38,"v":0},{"l":28,"h":39,"v":0},
{"l":29,"h":0,"v":0},{"l":29,"h":1,"v":0.015},{"l":29,"h":2,"v":0},{"l":29,"h":3,"v":0},{"l":29,"h":4,"v":0},{"l":29,"h":5,"v":0},{"l":29,"h":6,"v":0},{"l":29,"h":7,"v":0},{"l":29,"h":8,"v":0},{"l":29,"h":9,"v":0},{"l":29,"h":10,"v":0},{"l":29,"h":11,"v":0},{"l":29,"h":12,"v":0},{"l":29,"h":13,"v":0},{"l":29,"h":14,"v":0},{"l":29,"h":15,"v":0},{"l":29,"h":16,"v":0},{"l":29,"h":17,"v":0},{"l":29,"h":18,"v":0},{"l":29,"h":19,"v":0},{"l":29,"h":20,"v":0},{"l":29,"h":21,"v":0},{"l":29,"h":22,"v":0},{"l":29,"h":23,"v":0},{"l":29,"h":24,"v":0},{"l":29,"h":25,"v":0},{"l":29,"h":26,"v":0},{"l":29,"h":27,"v":0},{"l":29,"h":28,"v":0},{"l":29,"h":29,"v":0},{"l":29,"h":30,"v":0},{"l":29,"h":31,"v":0},{"l":29,"h":32,"v":0},{"l":29,"h":33,"v":0},{"l":29,"h":34,"v":0},{"l":29,"h":35,"v":0},{"l":29,"h":36,"v":0},{"l":29,"h":37,"v":0},{"l":29,"h":38,"v":0},{"l":29,"h":39,"v":0},
{"l":30,"h":0,"v":0},{"l":30,"h":1,"v":0},{"l":30,"h":2,"v":0},{"l":30,"h":3,"v":0},{"l":30,"h":4,"v":0},{"l":30,"h":5,"v":0},{"l":30,"h":6,"v":0},{"l":30,"h":7,"v":0},{"l":30,"h":8,"v":0},{"l":30,"h":9,"v":0},{"l":30,"h":10,"v":0},{"l":30,"h":11,"v":0},{"l":30,"h":12,"v":0},{"l":30,"h":13,"v":0},{"l":30,"h":14,"v":0},{"l":30,"h":15,"v":0},{"l":30,"h":16,"v":0},{"l":30,"h":17,"v":0},{"l":30,"h":18,"v":0},{"l":30,"h":19,"v":0},{"l":30,"h":20,"v":0},{"l":30,"h":21,"v":0},{"l":30,"h":22,"v":0},{"l":30,"h":23,"v":0},{"l":30,"h":24,"v":0},{"l":30,"h":25,"v":0},{"l":30,"h":26,"v":0},{"l":30,"h":27,"v":0},{"l":30,"h":28,"v":0},{"l":30,"h":29,"v":0},{"l":30,"h":30,"v":0},{"l":30,"h":31,"v":0},{"l":30,"h":32,"v":0},{"l":30,"h":33,"v":0},{"l":30,"h":34,"v":0},{"l":30,"h":35,"v":0},{"l":30,"h":36,"v":0},{"l":30,"h":37,"v":0},{"l":30,"h":38,"v":0.01},{"l":30,"h":39,"v":0},
{"l":31,"h":0,"v":0},{"l":31,"h":1,"v":0},{"l":31,"h":2,"v":0},{"l":31,"h":3,"v":0},{"l":31,"h":4,"v":0},{"l":31,"h":5,"v":0},{"l":31,"h":6,"v":0},{"l":31,"h":7,"v":0},{"l":31,"h":8,"v":0},{"l":31,"h":9,"v":0},{"l":31,"h":10,"v":0},{"l":31,"h":11,"v":0},{"l":31,"h":12,"v":0},{"l":31,"h":13,"v":0},{"l":31,"h":14,"v":0},{"l":31,"h":15,"v":0},{"l":31,"h":16,"v":0},{"l":31,"h":17,"v":0},{"l":31,"h":18,"v":0},{"l":31,"h":19,"v":0.012},{"l":31,"h":20,"v":0},{"l":31,"h":21,"v":0},{"l":31,"h":22,"v":0},{"l":31,"h":23,"v":0},{"l":31,"h":24,"v":0},{"l":31,"h":25,"v":0},{"l":31,"h":26,"v":0},{"l":31,"h":27,"v":0},{"l":31,"h":28,"v":0},{"l":31,"h":29,"v":0},{"l":31,"h":30,"v":0.012},{"l":31,"h":31,"v":0},{"l":31,"h":32,"v":0},{"l":31,"h":33,"v":0},{"l":31,"h":34,"v":0},{"l":31,"h":35,"v":0},{"l":31,"h":36,"v":0},{"l":31,"h":37,"v":0},{"l":31,"h":38,"v":0},{"l":31,"h":39,"v":0},
{"l":32,"h":0,"v":0},{"l":32,"h":1,"v":0},{"l":32,"h":2,"v":0},{"l":32,"h":3,"v":0},{"l":32,"h":4,"v":0},{"l":32,"h":5,"v":0},{"l":32,"h":6,"v":0},{"l":32,"h":7,"v":0},{"l":32,"h":8,"v":0},{"l":32,"h":9,"v":0},{"l":32,"h":10,"v":0},{"l":32,"h":11,"v":0},{"l":32,"h":12,"v":0},{"l":32,"h":13,"v":0},{"l":32,"h":14,"v":0},{"l":32,"h":15,"v":0},{"l":32,"h":16,"v":0},{"l":32,"h":17,"v":0},{"l":32,"h":18,"v":0},{"l":32,"h":19,"v":0},{"l":32,"h":20,"v":0},{"l":32,"h":21,"v":0},{"l":32,"h":22,"v":0},{"l":32,"h":23,"v":0},{"l":32,"h":24,"v":0},{"l":32,"h":25,"v":0},{"l":32,"h":26,"v":0},{"l":32,"h":27,"v":0},{"l":32,"h":28,"v":0},{"l":32,"h":29,"v":0.015},{"l":32,"h":30,"v":0},{"l":32,"h":31,"v":0},{"l":32,"h":32,"v":0},{"l":32,"h":33,"v":0},{"l":32,"h":34,"v":0.008},{"l":32,"h":35,"v":0},{"l":32,"h":36,"v":0},{"l":32,"h":37,"v":0},{"l":32,"h":38,"v":0},{"l":32,"h":39,"v":0},
{"l":33,"h":0,"v":0},{"l":33,"h":1,"v":0},{"l":33,"h":2,"v":0},{"l":33,"h":3,"v":0},{"l":33,"h":4,"v":0},{"l":33,"h":5,"v":0},{"l":33,"h":6,"v":0},{"l":33,"h":7,"v":0},{"l":33,"h":8,"v":0},{"l":33,"h":9,"v":0},{"l":33,"h":10,"v":0},{"l":33,"h":11,"v":0},{"l":33,"h":12,"v":0},{"l":33,"h":13,"v":0},{"l":33,"h":14,"v":0},{"l":33,"h":15,"v":0},{"l":33,"h":16,"v":0},{"l":33,"h":17,"v":0},{"l":33,"h":18,"v":0},{"l":33,"h":19,"v":0},{"l":33,"h":20,"v":0},{"l":33,"h":21,"v":0},{"l":33,"h":22,"v":0},{"l":33,"h":23,"v":0},{"l":33,"h":24,"v":0},{"l":33,"h":25,"v":0},{"l":33,"h":26,"v":0},{"l":33,"h":27,"v":0},{"l":33,"h":28,"v":0},{"l":33,"h":29,"v":0},{"l":33,"h":30,"v":0},{"l":33,"h":31,"v":0},{"l":33,"h":32,"v":0},{"l":33,"h":33,"v":0},{"l":33,"h":34,"v":0.012},{"l":33,"h":35,"v":0},{"l":33,"h":36,"v":0},{"l":33,"h":37,"v":0},{"l":33,"h":38,"v":0},{"l":33,"h":39,"v":0},
{"l":34,"h":0,"v":0},{"l":34,"h":1,"v":0},{"l":34,"h":2,"v":0},{"l":34,"h":3,"v":0},{"l":34,"h":4,"v":0},{"l":34,"h":5,"v":0},{"l":34,"h":6,"v":0},{"l":34,"h":7,"v":0},{"l":34,"h":8,"v":0},{"l":34,"h":9,"v":0},{"l":34,"h":10,"v":0},{"l":34,"h":11,"v":0.01},{"l":34,"h":12,"v":0},{"l":34,"h":13,"v":0},{"l":34,"h":14,"v":0.05},{"l":34,"h":15,"v":0},{"l":34,"h":16,"v":0},{"l":34,"h":17,"v":0},{"l":34,"h":18,"v":0},{"l":34,"h":19,"v":0.025},{"l":34,"h":20,"v":0},{"l":34,"h":21,"v":0},{"l":34,"h":22,"v":0},{"l":34,"h":23,"v":0},{"l":34,"h":24,"v":0},{"l":34,"h":25,"v":0},{"l":34,"h":26,"v":0},{"l":34,"h":27,"v":0},{"l":34,"h":28,"v":0},{"l":34,"h":29,"v":0},{"l":34,"h":30,"v":0},{"l":34,"h":31,"v":0.05},{"l":34,"h":32,"v":0},{"l":34,"h":33,"v":0},{"l":34,"h":34,"v":0},{"l":34,"h":35,"v":0},{"l":34,"h":36,"v":0},{"l":34,"h":37,"v":0},{"l":34,"h":38,"v":0.012},{"l":34,"h":39,"v":0},
{"l":35,"h":0,"v":0},{"l":35,"h":1,"v":0},{"l":35,"h":2,"v":0},{"l":35,"h":3,"v":0},{"l":35,"h":4,"v":0},{"l":35,"h":5,"v":0},{"l":35,"h":6,"v":0},{"l":35,"h":7,"v":0},{"l":35,"h":8,"v":0},{"l":35,"h":9,"v":0},{"l":35,"h":10,"v":0},{"l":35,"h":11,"v":0.055},{"l":35,"h":12,"v":0},{"l":35,"h":13,"v":0},{"l":35,"h":14,"v":0.065},{"l":35,"h":15,"v":0.035},{"l":35,"h":16,"v":0.03},{"l":35,"h":17,"v":0},{"l":35,"h":18,"v":0},{"l":35,"h":19,"v":0},{"l":35,"h":20,"v":0},{"l":35,"h":21,"v":0},{"l":35,"h":22,"v":0},{"l":35,"h":23,"v":0},{"l":35,"h":24,"v":0},{"l":35,"h":25,"v":0},{"l":35,"h":26,"v":0},{"l":35,"h":27,"v":0},{"l":35,"h":28,"v":0},{"l":35,"h":29,"v":0},{"l":35,"h":30,"v":0},{"l":35,"h":31,"v":0},{"l":35,"h":32,"v":0},{"l":35,"h":33,"v":0.01},{"l":35,"h":34,"v":0},{"l":35,"h":35,"v":0},{"l":35,"h":36,"v":0},{"l":35,"h":37,"v":0},{"l":35,"h":38,"v":0},{"l":35,"h":39,"v":0},
{"l":36,"h":0,"v":0},{"l":36,"h":1,"v":0},{"l":36,"h":2,"v":0},{"l":36,"h":3,"v":0},{"l":36,"h":4,"v":0},{"l":36,"h":5,"v":0},{"l":36,"h":6,"v":0},{"l":36,"h":7,"v":0},{"l":36,"h":8,"v":0},{"l":36,"h":9,"v":0},{"l":36,"h":10,"v":0.12},{"l":36,"h":11,"v":0},{"l":36,"h":12,"v":0},{"l":36,"h":13,"v":0},{"l":36,"h":14,"v":0.1},{"l":36,"h":15,"v":0},{"l":36,"h":16,"v":0.02},{"l":36,"h":17,"v":0},{"l":36,"h":18,"v":0},{"l":36,"h":19,"v":0.01},{"l":36,"h":20,"v":0.008},{"l":36,"h":21,"v":0.02},{"l":36,"h":22,"v":0},{"l":36,"h":23,"v":0.01},{"l":36,"h":24,"v":0},{"l":36,"h":25,"v":0},{"l":36,"h":26,"v":0.02},{"l":36,"h":27,"v":0},{"l":36,"h":28,"v":0},{"l":36,"h":29,"v":0},{"l":36,"h":30,"v":0.095},{"l":36,"h":31,"v":0.055},{"l":36,"h":32,"v":0.08},{"l":36,"h":33,"v":0},{"l":36,"h":34,"v":0},{"l":36,"h":35,"v":0},{"l":36,"h":36,"v":0.025},{"l":36,"h":37,"v":0},{"l":36,"h":38,"v":0},{"l":36,"h":39,"v":0},
{"l":37,"h":0,"v":0},{"l":37,"h":1,"v":0},{"l":37,"h":2,"v":0},{"l":37,"h":3,"v":0},{"l":37,"h":4,"v":0.01},{"l":37,"h":5,"v":0},{"l":37,"h":6,"v":0},{"l":37,"h":7,"v":0},{"l":37,"h":8,"v":0},{"l":37,"h":9,"v":0.006},{"l":37,"h":10,"v":0},{"l":37,"h":11,"v":0},{"l":37,"h":12,"v":0},{"l":37,"h":13,"v":0},{"l":37,"h":14,"v":0},{"l":37,"h":15,"v":0},{"l":37,"h":16,"v":0.04},{"l":37,"h":17,"v":0},{"l":37,"h":18,"v":0},{"l":37,"h":19,"v":0.025},{"l":37,"h":20,"v":0},{"l":37,"h":21,"v":0},{"l":37,"h":22,"v":0},{"l":37,"h":23,"v":0.015},{"l":37,"h":24,"v":0},{"l":37,"h":25,"v":0},{"l":37,"h":26,"v":0.03},{"l":37,"h":27,"v":0},{"l":37,"h":28,"v":0},{"l":37,"h":29,"v":0},{"l":37,"h":30,"v":0},{"l":37,"h":31,"v":0},{"l":37,"h":32,"v":0},{"l":37,"h":33,"v":0},{"l":37,"h":34,"v":0},{"l":37,"h":35,"v":0},{"l":37,"h":36,"v":0},{"l":37,"h":37,"v":0},{"l":37,"h":38,"v":0},{"l":37,"h":39,"v":0},
{"l":38,"h":0,"v":0},{"l":38,"h":1,"v":0},{"l":38,"h":2,"v":0},{"l":38,"h":3,"v":0.01},{"l":38,"h":4,"v":0},{"l":38,"h":5,"v":0},{"l":38,"h":6,"v":0},{"l":38,"h":7,"v":0},{"l":38,"h":8,"v":0},{"l":38,"h":9,"v":0},{"l":38,"h":10,"v":0},{"l":38,"h":11,"v":0},{"l":38,"h":12,"v":0},{"l":38,"h":13,"v":0},{"l":38,"h":14,"v":0.006},{"l":38,"h":15,"v":0},{"l":38,"h":16,"v":0},{"l":38,"h":17,"v":0},{"l":38,"h":18,"v":0},{"l":38,"h":19,"v":0},{"l":38,"h":20,"v":0},{"l":38,"h":21,"v":0},{"l":38,"h":22,"v":0},{"l":38,"h":23,"v":0},{"l":38,"h":24,"v":0},{"l":38,"h":25,"v":0},{"l":38,"h":26,"v":0},{"l":38,"h":27,"v":0},{"l":38,"h":28,"v":0},{"l":38,"h":29,"v":0},{"l":38,"h":30,"v":0},{"l":38,"h":31,"v":0},{"l":38,"h":32,"v":0},{"l":38,"h":33,"v":0.012},{"l":38,"h":34,"v":0.01},{"l":38,"h":35,"v":0},{"l":38,"h":36,"v":0},{"l":38,"h":37,"v":0},{"l":38,"h":38,"v":0},{"l":38,"h":39,"v":0},
{"l":39,"h":0,"v":0.01},{"l":39,"h":1,"v":0},{"l":39,"h":2,"v":0},{"l":39,"h":3,"v":0},{"l":39,"h":4,"v":0},{"l":39,"h":5,"v":0},{"l":39,"h":6,"v":0},{"l":39,"h":7,"v":0},{"l":39,"h":8,"v":0},{"l":39,"h":9,"v":0},{"l":39,"h":10,"v":0},{"l":39,"h":11,"v":0.012},{"l":39,"h":12,"v":0},{"l":39,"h":13,"v":0},{"l":39,"h":14,"v":0},{"l":39,"h":15,"v":0},{"l":39,"h":16,"v":0},{"l":39,"h":17,"v":0},{"l":39,"h":18,"v":0},{"l":39,"h":19,"v":0},{"l":39,"h":20,"v":0.065},{"l":39,"h":21,"v":0},{"l":39,"h":22,"v":0},{"l":39,"h":23,"v":0.09},{"l":39,"h":24,"v":0},{"l":39,"h":25,"v":0},{"l":39,"h":26,"v":0},{"l":39,"h":27,"v":0.008},{"l":39,"h":28,"v":0},{"l":39,"h":29,"v":0.035},{"l":39,"h":30,"v":0},{"l":39,"h":31,"v":0.035},{"l":39,"h":32,"v":0},{"l":39,"h":33,"v":0},{"l":39,"h":34,"v":0},{"l":39,"h":35,"v":0},{"l":39,"h":36,"v":0},{"l":39,"h":37,"v":0},{"l":39,"h":38,"v":0},{"l":39,"h":39,"v":0},
{"l":40,"h":0,"v":0},{"l":40,"h":1,"v":0},{"l":40,"h":2,"v":0},{"l":40,"h":3,"v":0.012},{"l":40,"h":4,"v":0},{"l":40,"h":5,"v":0},{"l":40,"h":6,"v":0},{"l":40,"h":7,"v":0},{"l":40,"h":8,"v":0},{"l":40,"h":9,"v":0},{"l":40,"h":10,"v":0.012},{"l":40,"h":11,"v":0},{"l":40,"h":12,"v":0},{"l":40,"h":13,"v":0},{"l":40,"h":14,"v":0},{"l":40,"h":15,"v":0},{"l":40,"h":16,"v":0},{"l":40,"h":17,"v":0},{"l":40,"h":18,"v":0},{"l":40,"h":19,"v":0},{"l":40,"h":20,"v":0.045},{"l":40,"h":21,"v":0.06},{"l":40,"h":22,"v":0.14},{"l":40,"h":23,"v":0.13},{"l":40,"h":24,"v":0},{"l":40,"h":25,"v":0},{"l":40,"h":26,"v":0},{"l":40,"h":27,"v":0},{"l":40,"h":28,"v":0},{"l":40,"h":29,"v":0},{"l":40,"h":30,"v":0},{"l":40,"h":31,"v":0},{"l":40,"h":32,"v":0},{"l":40,"h":33,"v":0},{"l":40,"h":34,"v":0},{"l":40,"h":35,"v":0},{"l":40,"h":36,"v":0},{"l":40,"h":37,"v":0},{"l":40,"h":38,"v":0},{"l":40,"h":39,"v":0},
{"l":41,"h":0,"v":0},{"l":41,"h":1,"v":0},{"l":41,"h":2,"v":0},{"l":41,"h":3,"v":0},{"l":41,"h":4,"v":0},{"l":41,"h":5,"v":0},{"l":41,"h":6,"v":0},{"l":41,"h":7,"v":0},{"l":41,"h":8,"v":0},{"l":41,"h":9,"v":0},{"l":41,"h":10,"v":0},{"l":41,"h":11,"v":0.065},{"l":41,"h":12,"v":0},{"l":41,"h":13,"v":0},{"l":41,"h":14,"v":0.395},{"l":41,"h":15,"v":0},{"l":41,"h":16,"v":0},{"l":41,"h":17,"v":0},{"l":41,"h":18,"v":0},{"l":41,"h":19,"v":0},{"l":41,"h":20,"v":0},{"l":41,"h":21,"v":0},{"l":41,"h":22,"v":0},{"l":41,"h":23,"v":0},{"l":41,"h":24,"v":0},{"l":41,"h":25,"v":0},{"l":41,"h":26,"v":0},{"l":41,"h":27,"v":0},{"l":41,"h":28,"v":0},{"l":41,"h":29,"v":0},{"l":41,"h":30,"v":0},{"l":41,"h":31,"v":0},{"l":41,"h":32,"v":0},{"l":41,"h":33,"v":0},{"l":41,"h":34,"v":0},{"l":41,"h":35,"v":0},{"l":41,"h":36,"v":0},{"l":41,"h":37,"v":0},{"l":41,"h":38,"v":0},{"l":41,"h":39,"v":0},
{"l":42,"h":0,"v":0.015},{"l":42,"h":1,"v":0.012},{"l":42,"h":2,"v":0},{"l":42,"h":3,"v":0},{"l":42,"h":4,"v":0},{"l":42,"h":5,"v":0},{"l":42,"h":6,"v":0},{"l":42,"h":7,"v":0},{"l":42,"h":8,"v":0},{"l":42,"h":9,"v":0},{"l":42,"h":10,"v":0},{"l":42,"h":11,"v":0.006},{"l":42,"h":12,"v":0},{"l":42,"h":13,"v":0},{"l":42,"h":14,"v":0},{"l":42,"h":15,"v":0},{"l":42,"h":16,"v":0.03},{"l":42,"h":17,"v":0},{"l":42,"h":18,"v":0},{"l":42,"h":19,"v":0.025},{"l":42,"h":20,"v":0},{"l":42,"h":21,"v":0.23},{"l":42,"h":22,"v":0},{"l":42,"h":23,"v":0.008},{"l":42,"h":24,"v":0},{"l":42,"h":25,"v":0},{"l":42,"h":26,"v":0},{"l":42,"h":27,"v":0},{"l":42,"h":28,"v":0},{"l":42,"h":29,"v":0},{"l":42,"h":30,"v":0},{"l":42,"h":31,"v":0},{"l":42,"h":32,"v":0},{"l":42,"h":33,"v":0},{"l":42,"h":34,"v":0},{"l":42,"h":35,"v":0},{"l":42,"h":36,"v":0},{"l":42,"h":37,"v":0},{"l":42,"h":38,"v":0},{"l":42,"h":39,"v":0},
{"l":43,"h":0,"v":0},{"l":43,"h":1,"v":0},{"l":43,"h":2,"v":0},{"l":43,"h":3,"v":0},{"l":43,"h":4,"v":0},{"l":43,"h":5,"v":0},{"l":43,"h":6,"v":0},{"l":43,"h":7,"v":0},{"l":43,"h":8,"v":0},{"l":43,"h":9,"v":0},{"l":43,"h":10,"v":0},{"l":43,"h":11,"v":0},{"l":43,"h":12,"v":0},{"l":43,"h":13,"v":0},{"l":43,"h":14,"v":0},{"l":43,"h":15,"v":0},{"l":43,"h":16,"v":0},{"l":43,"h":17,"v":0},{"l":43,"h":18,"v":0},{"l":43,"h":19,"v":0},{"l":43,"h":20,"v":0},{"l":43,"h":21,"v":0},{"l":43,"h":22,"v":0},{"l":43,"h":23,"v":0},{"l":43,"h":24,"v":0},{"l":43,"h":25,"v":0},{"l":43,"h":26,"v":0},{"l":43,"h":27,"v":0},{"l":43,"h":28,"v":0},{"l":43,"h":29,"v":0},{"l":43,"h":30,"v":0.006},{"l":43,"h":31,"v":0.006},{"l":43,"h":32,"v":0},{"l":43,"h":33,"v":0},{"l":43,"h":34,"v":0},{"l":43,"h":35,"v":0},{"l":43,"h":36,"v":0.2},{"l":43,"h":37,"v":0},{"l":43,"h":38,"v":0},{"l":43,"h":39,"v":0},
{"l":44,"h":0,"v":0},{"l":44,"h":1,"v":0},{"l":44,"h":2,"v":0},{"l":44,"h":3,"v":0},{"l":44,"h":4,"v":0},{"l":44,"h":5,"v":0.01},{"l":44,"h":6,"v":0},{"l":44,"h":7,"v":0.03},{"l":44,"h":8,"v":0},{"l":44,"h":9,"v":0.006},{"l":44,"h":10,"v":0.01},{"l":44,"h":11,"v":0},{"l":44,"h":12,"v":0},{"l":44,"h":13,"v":0},{"l":44,"h":14,"v":0.03},{"l":44,"h":15,"v":0},{"l":44,"h":16,"v":0.02},{"l":44,"h":17,"v":0},{"l":44,"h":18,"v":0},{"l":44,"h":19,"v":0},{"l":44,"h":20,"v":0},{"l":44,"h":21,"v":0},{"l":44,"h":22,"v":0},{"l":44,"h":23,"v":0},{"l":44,"h":24,"v":0},{"l":44,"h":25,"v":0},{"l":44,"h":26,"v":0},{"l":44,"h":27,"v":0},{"l":44,"h":28,"v":0},{"l":44,"h":29,"v":0},{"l":44,"h":30,"v":0},{"l":44,"h":31,"v":0},{"l":44,"h":32,"v":0},{"l":44,"h":33,"v":0},{"l":44,"h":34,"v":0},{"l":44,"h":35,"v":0.008},{"l":44,"h":36,"v":0},{"l":44,"h":37,"v":0.01},{"l":44,"h":38,"v":0},{"l":44,"h":39,"v":0},
{"l":45,"h":0,"v":0},{"l":45,"h":1,"v":0},{"l":45,"h":2,"v":0},{"l":45,"h":3,"v":0},{"l":45,"h":4,"v":0},{"l":45,"h":5,"v":0},{"l":45,"h":6,"v":0},{"l":45,"h":7,"v":0},{"l":45,"h":8,"v":0},{"l":45,"h":9,"v":0},{"l":45,"h":10,"v":0},{"l":45,"h":11,"v":0},{"l":45,"h":12,"v":0},{"l":45,"h":13,"v":0},{"l":45,"h":14,"v":0},{"l":45,"h":15,"v":0},{"l":45,"h":16,"v":0},{"l":45,"h":17,"v":0},{"l":45,"h":18,"v":0},{"l":45,"h":19,"v":0},{"l":45,"h":20,"v":0},{"l":45,"h":21,"v":0},{"l":45,"h":22,"v":0},{"l":45,"h":23,"v":0},{"l":45,"h":24,"v":0},{"l":45,"h":25,"v":0},{"l":45,"h":26,"v":0.03},{"l":45,"h":27,"v":0.23},{"l":45,"h":28,"v":0},{"l":45,"h":29,"v":0},{"l":45,"h":30,"v":0.005},{"l":45,"h":31,"v":0},{"l":45,"h":32,"v":0},{"l":45,"h":33,"v":0},{"l":45,"h":34,"v":0.04},{"l":45,"h":35,"v":0},{"l":45,"h":36,"v":0.025},{"l":45,"h":37,"v":0.345},{"l":45,"h":38,"v":0.03},{"l":45,"h":39,"v":0},
{"l":46,"h":0,"v":0.012},{"l":46,"h":1,"v":0.012},{"l":46,"h":2,"v":0},{"l":46,"h":3,"v":0},{"l":46,"h":4,"v":0.345},{"l":46,"h":5,"v":0},{"l":46,"h":6,"v":0},{"l":46,"h":7,"v":0.025},{"l":46,"h":8,"v":0},{"l":46,"h":9,"v":0},{"l":46,"h":10,"v":0},{"l":46,"h":11,"v":0},{"l":46,"h":12,"v":0},{"l":46,"h":13,"v":0},{"l":46,"h":14,"v":0},{"l":46,"h":15,"v":0},{"l":46,"h":16,"v":0},{"l":46,"h":17,"v":0.01},{"l":46,"h":18,"v":0},{"l":46,"h":19,"v":0},{"l":46,"h":20,"v":0},{"l":46,"h":21,"v":0},{"l":46,"h":22,"v":0.01},{"l":46,"h":23,"v":0},{"l":46,"h":24,"v":0},{"l":46,"h":25,"v":0.012},{"l":46,"h":26,"v":0},{"l":46,"h":27,"v":0},{"l":46,"h":28,"v":0.1},{"l":46,"h":29,"v":0},{"l":46,"h":30,"v":0},{"l":46,"h":31,"v":0},{"l":46,"h":32,"v":0},{"l":46,"h":33,"v":0},{"l":46,"h":34,"v":0},{"l":46,"h":35,"v":0},{"l":46,"h":36,"v":0},{"l":46,"h":37,"v":0},{"l":46,"h":38,"v":0.008},{"l":46,"h":39,"v":0},
{"l":47,"h":0,"v":0},{"l":47,"h":1,"v":0},{"l":47,"h":2,"v":0},{"l":47,"h":3,"v":0},{"l":47,"h":4,"v":0},{"l":47,"h":5,"v":0},{"l":47,"h":6,"v":0},{"l":47,"h":7,"v":0},{"l":47,"h":8,"v":0},{"l":47,"h":9,"v":0.03},{"l":47,"h":10,"v":0},{"l":47,"h":11,"v":0.05},{"l":47,"h":12,"v":0},{"l":47,"h":13,"v":0},{"l":47,"h":14,"v":0},{"l":47,"h":15,"v":0},{"l":47,"h":16,"v":0},{"l":47,"h":17,"v":0},{"l":47,"h":18,"v":0},{"l":47,"h":19,"v":0},{"l":47,"h":20,"v":0},{"l":47,"h":21,"v":0},{"l":47,"h":22,"v":0},{"l":47,"h":23,"v":0},{"l":47,"h":24,"v":0},{"l":47,"h":25,"v":0},{"l":47,"h":26,"v":0},{"l":47,"h":27,"v":0},{"l":47,"h":28,"v":0},{"l":47,"h":29,"v":0},{"l":47,"h":30,"v":0},{"l":47,"h":31,"v":0},{"l":47,"h":32,"v":0},{"l":47,"h":33,"v":0.02},{"l":47,"h":34,"v":0.045},{"l":47,"h":35,"v":0},{"l":47,"h":36,"v":0},{"l":47,"h":37,"v":0},{"l":47,"h":38,"v":0},{"l":47,"h":39,"v":0}
]},
"mark":{"type":"rect","stroke":"white","strokeWidth":1.5},
"encoding":{
"x":{"field":"h","type":"ordinal","title":"Attention head","axis":{"values":[0,2,4,6,8,10,12,14,16,18,20,22,24,26,28,30,32,34,36,38],"labelAngle":0,"labelFontSize":52,"labelColor":"#262626","labelPadding":25,"ticks":false,"tickSize":0,"domain":false,"grid":false,"titleFontSize":50,"titleFontWeight":"normal","titleColor":"#262626","titlePadding":2}},
"y":{"field":"l","type":"ordinal","title":"Layer","axis":{"values":[0,3,6,9,12,15,18,21,24,27,30,33,36,39,42,45],"labelAngle":270,"labelAlign":"center","labelBaseline":"alphabetic","labelFontSize":52,"labelColor":"#262626","labelPadding":40,"ticks":false,"tickSize":0,"domain":false,"grid":false,"titleFontSize":50,"titleFontWeight":"normal","titleColor":"#262626","titlePadding":6}},
"color":{"field":"v","type":"quantitative","scale":{"type":"linear","domain":[0,0.049375,0.09875,0.148125,0.1975,0.246875,0.29625,0.345625,0.395],"range":["#fcfbfd","#efedf5","#dadaeb","#bcbddc","#9e9ac8","#807dba","#6a51a3","#54278f","#3f007d"],"interpolate":"rgb"},"legend":{"type":"gradient","orient":"none","legendX":1313,"legendY":110,"direction":"vertical","gradientLength":878,"gradientThickness":41,"gradientStrokeWidth":0,"values":[0,0.05,0.1,0.15,0.2,0.25,0.3,0.35],"labelExpr":"'\u2013\u2009' + format(datum.value, '.2f')","labelFontSize":49,"labelColor":"#262626","labelOffset":0,"labelOverlap":false,"labelLimit":400,"title":"LOPH","titleOrient":"right","titleAnchor":"middle","titleAlign":"center","titleBaseline":"top","titleFontSize":50,"titleFontWeight":"normal","titleColor":"#262626","titlePadding":0,"encode":{"labels":{"update":{"baseline":{"value":"middle"}}},"title":{"update":{"angle":{"value":270},"dx":{"value":13}}}}}}
}
}
